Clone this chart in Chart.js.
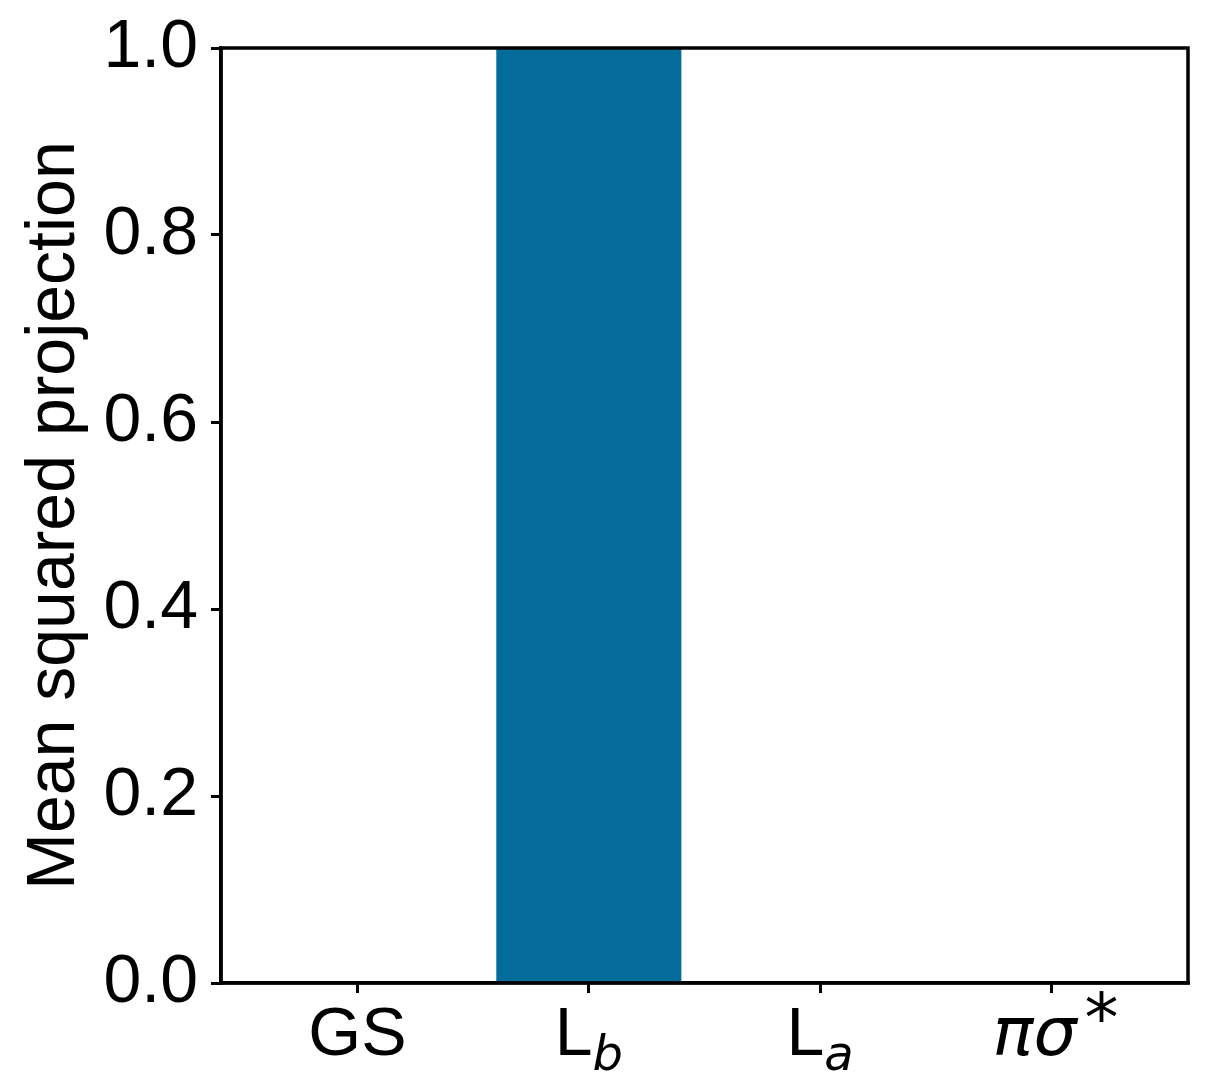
<!DOCTYPE html>
<html>
<head>
<meta charset="utf-8">
<script src="https://cdn.jsdelivr.net/npm/chart.js@4.4.1/dist/chart.umd.min.js"></script>
<style>
  html, body { margin: 0; padding: 0; background: #fff; }
  #canvas { display: block; }
</style>
</head>
<body>
<canvas id="canvas" width="1209" height="1083"></canvas>
<script>
// states on the x axis (drawn with sub/superscripts by the label plugin)
var categories = ['GS', 'Lb', 'La', 'πσ*'];
var projection = [0.0, 1.0, 0.0, 0.0];
var yTicks = [0.0, 0.2, 0.4, 0.6, 0.8, 1.0];

// how each category label is typeset: [text, style] pieces
var labelParts = [
  [['GS', 'n']],
  [['L', 'n'], ['b', 'sub']],
  [['L', 'n'], ['a', 'sub']],
  [['πσ', 'it'], ['*', 'sup']]
];

var FONT = '"Liberation Sans", Arial, sans-serif';
var FS = 68;

function partFont(style) {
  if (style == 'sub') return 'italic ' + Math.round(FS * 0.7) + 'px "DejaVu Sans", sans-serif';
  if (style == 'it') return 'italic ' + FS + 'px "DejaVu Sans", sans-serif';
  if (style == 'sup') return FS + 'px "DejaVu Sans", sans-serif';
  return FS + 'px ' + FONT;
}

var frame = {
  id: 'frame',
  afterDatasetsDraw: function(chart) {
    var a = chart.chartArea, ctx = chart.ctx;
    ctx.save();
    ctx.strokeStyle = '#000';
    ctx.lineWidth = 3.5;
    ctx.strokeRect(a.left, a.top, a.right - a.left, a.bottom - a.top);
    ctx.restore();
  }
};

var xLabels = {
  id: 'xLabels',
  afterDraw: function(chart) {
    var ctx = chart.ctx, xs = chart.scales.x;
    var base = chart.chartArea.bottom + 72;
    ctx.save();
    ctx.fillStyle = '#000';
    ctx.textBaseline = 'alphabetic';
    ctx.textAlign = 'left';
    labelParts.forEach(function(parts, i) {
      var w = 0;
      parts.forEach(function(p) { ctx.font = partFont(p[1]); w += ctx.measureText(p[0]).width; });
      var x = xs.getPixelForValue(i) - w / 2;
      parts.forEach(function(p) {
        ctx.font = partFont(p[1]);
        var dy = p[1] == 'sub' ? 15 : (p[1] == 'sup' ? -14 : 0);
        if (p[1] == 'sup') x += 8;
        ctx.fillText(p[0], x, base + dy);
        x += ctx.measureText(p[0]).width;
      });
    });
    ctx.restore();
  }
};

var ctx = document.getElementById('canvas');
window.myBar = new Chart(ctx, {
  type: 'bar',
  data: {
    datasets: [{
      label: 'Mean squared projection',
      data: projection.map(function(v, i) { return { x: i, y: v }; }),
      backgroundColor: '#046c9b',
      borderWidth: 0,
      barPercentage: 0.8,
      categoryPercentage: 1.0
    }]
  },
  options: {
    responsive: false,
    animation: false,
    layout: { padding: { top: 48, right: 21, left: 0, bottom: 0 } },
    plugins: { legend: { display: false }, tooltip: { enabled: false } },
    scales: {
      x: {
        type: 'linear',
        offset: false,
        min: -0.59,
        max: 3.59,
        afterBuildTicks: function(scale) {
          scale.ticks = categories.map(function(c, i) { return { value: i }; });
        },
        afterFit: function(scale) { scale.height = 100; scale.paddingLeft = 0; scale.paddingRight = 0; },
        ticks: { display: false },
        grid: { offset: false, drawOnChartArea: false, drawTicks: true, tickLength: 10, color: '#000', lineWidth: 3 },
        border: { display: true, color: '#000', width: 3.5 }
      },
      y: {
        min: 0,
        max: 1,
        afterBuildTicks: function(scale) {
          scale.ticks = yTicks.map(function(v) { return { value: v }; });
        },
        afterFit: function(scale) { scale.width = 221; scale.paddingTop = 0; scale.paddingBottom = 0; },
        ticks: {
          padding: 13,
          color: '#000',
          font: { family: FONT, size: FS },
          callback: function(v) { return Number(v).toFixed(1); }
        },
        grid: { drawOnChartArea: false, drawTicks: true, tickLength: 10, color: '#000', lineWidth: 3 },
        border: { display: true, color: '#000', width: 3.5 },
        title: {
          display: true,
          text: 'Mean squared projection',
          color: '#000',
          font: { family: FONT, size: FS },
          padding: { top: 14, bottom: 0 }
        }
      }
    }
  },
  plugins: [frame, xLabels]
});
</script>
</body>
</html>
